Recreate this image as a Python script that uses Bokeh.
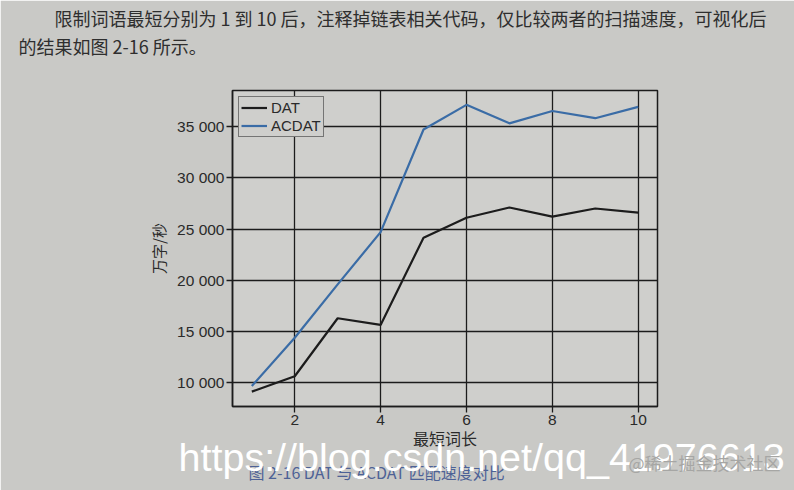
from bokeh.plotting import figure
from bokeh.models import FixedTicker, Legend, LegendItem, Range1d, Title
from bokeh.embed import file_html
from bokeh.resources import INLINE

# ---- data ----
word_len = [1, 2, 3, 4, 5, 6, 7, 8, 9, 10]
dat = [9150, 10650, 16300, 15650, 24150, 26100, 27100, 26200, 27000, 26600]
acdat = [9700, 14400, 19600, 24700, 34700, 37100, 35300, 36500, 35800, 36900]
series_names = ["DAT", "ACDAT"]
x_ticks = [2, 4, 6, 8, 10]
y_ticks = [10000, 15000, 20000, 25000, 30000, 35000]
y_tick_labels = ["10 000", "15 000", "20 000", "25 000", "30 000", "35 000"]
x_label = "最短词长"
y_label = "万字/秒"
header_1 = "限制词语最短分别为 1 到 10 后，注释掉链表相关代码，仅比较两者的扫描速度，可视化后"
header_2 = "的结果如图 2-16 所示。"
caption = "图 2-16  DAT 与 ACDAT 匹配速度对比"
watermark = "https://blog.csdn.net/qq_41976613"
watermark_2 = "@稀土掘金技术社区"

PAPER = "#c9c9c6"
PLOT_BG = "#cfcfcc"
INK = "#1c1c1c"
BLUE = "#3a6ca6"
LATIN = "Liberation Sans"
CJK = "Noto Sans CJK SC"

p = figure(width=794, height=490, output_backend="svg", toolbar_location=None,
           x_range=Range1d(0.55, 10.45), y_range=Range1d(7700, 38500),
           min_border_left=232, min_border_right=137,
           min_border_top=90, min_border_bottom=84)
p.background_fill_color = PLOT_BG
p.border_fill_color = PAPER
p.outline_line_color = INK
p.outline_line_width = 1.5

r_dat = p.line(word_len, dat, line_color=INK, line_width=2.2)
r_ac = p.line(word_len, acdat, line_color=BLUE, line_width=2.2)

p.xaxis.ticker = FixedTicker(ticks=x_ticks)
p.yaxis.ticker = FixedTicker(ticks=y_ticks)
p.yaxis.major_label_overrides = {t: l for t, l in zip(y_ticks, y_tick_labels)}

for ax in (p.xaxis, p.yaxis):
    ax.axis_line_color = INK
    ax.axis_line_width = 1.5
    ax.major_tick_line_color = INK
    ax.major_tick_line_width = 1.3
    ax.major_tick_out = 6
    ax.major_tick_in = 0
    ax.minor_tick_line_color = None
    ax.major_label_text_font = LATIN
    ax.major_label_text_font_size = "15.5px"
    ax.major_label_text_color = "#2a2a2a"
    ax.major_label_standoff = 2
    ax.axis_label_text_font = CJK
    ax.axis_label_text_font_style = "normal"
    ax.axis_label_text_color = "#2a2a2a"

p.xaxis.axis_label = x_label
p.xaxis.axis_label_text_font_size = "16px"
p.xaxis.axis_label_standoff = -2
p.yaxis.axis_label = y_label
p.yaxis.axis_label_text_font_size = "15px"
p.yaxis.axis_label_standoff = 5

for g in (p.xgrid, p.ygrid):
    g.grid_line_color = INK
    g.grid_line_width = 1.3
    g.grid_line_alpha = 1.0
p.xgrid.ticker = FixedTicker(ticks=x_ticks)
p.ygrid.ticker = FixedTicker(ticks=y_ticks)

legend = Legend(items=[LegendItem(label=series_names[0], renderers=[r_dat]),
                       LegendItem(label=series_names[1], renderers=[r_ac])],
                location="top_left", margin=6, padding=2, spacing=1,
                label_text_font=LATIN, label_text_font_size="15px",
                label_text_color="#2a2a2a",
                label_height=15, glyph_height=15, glyph_width=26, label_standoff=4,
                border_line_color=INK, border_line_width=1.2,
                background_fill_color=PLOT_BG, background_fill_alpha=1.0)
p.add_layout(legend)

# header paragraph: one multi-line title above the plot
header = "\u3000\u3000" + header_1 + "\n" + header_2 + "\n"
th = Title(text=header, align="left", offset=-214, standoff=4,
           vertical_align="top", text_line_height=1.08,
           text_font=CJK, text_font_size="18px", text_font_style="normal",
           text_color="#2e2e2e")
p.add_layout(th, "above")

# watermark and caption below the axis
tw = Title(text=watermark, align="left", offset=-54, standoff=-40,
           text_font=LATIN, text_font_size="39.5px", text_font_style="normal",
           text_color="#ffffff", level="overlay")
tc = Title(text=caption, align="left", offset=16, standoff=-1,
           text_font=CJK, text_font_size="16px", text_font_style="normal",
           text_color="#4d6296")
tw2 = Title(text=watermark_2, align="left", offset=396, standoff=-67,
            vertical_align="top",
            text_font=CJK, text_font_size="17px", text_font_style="normal",
            text_color="#a6a6a4", level="overlay")
p.add_layout(tw, "below")
p.add_layout(tc, "below")
p.add_layout(tw2, "below")

open("out.html", "w").write(file_html(p, INLINE))
